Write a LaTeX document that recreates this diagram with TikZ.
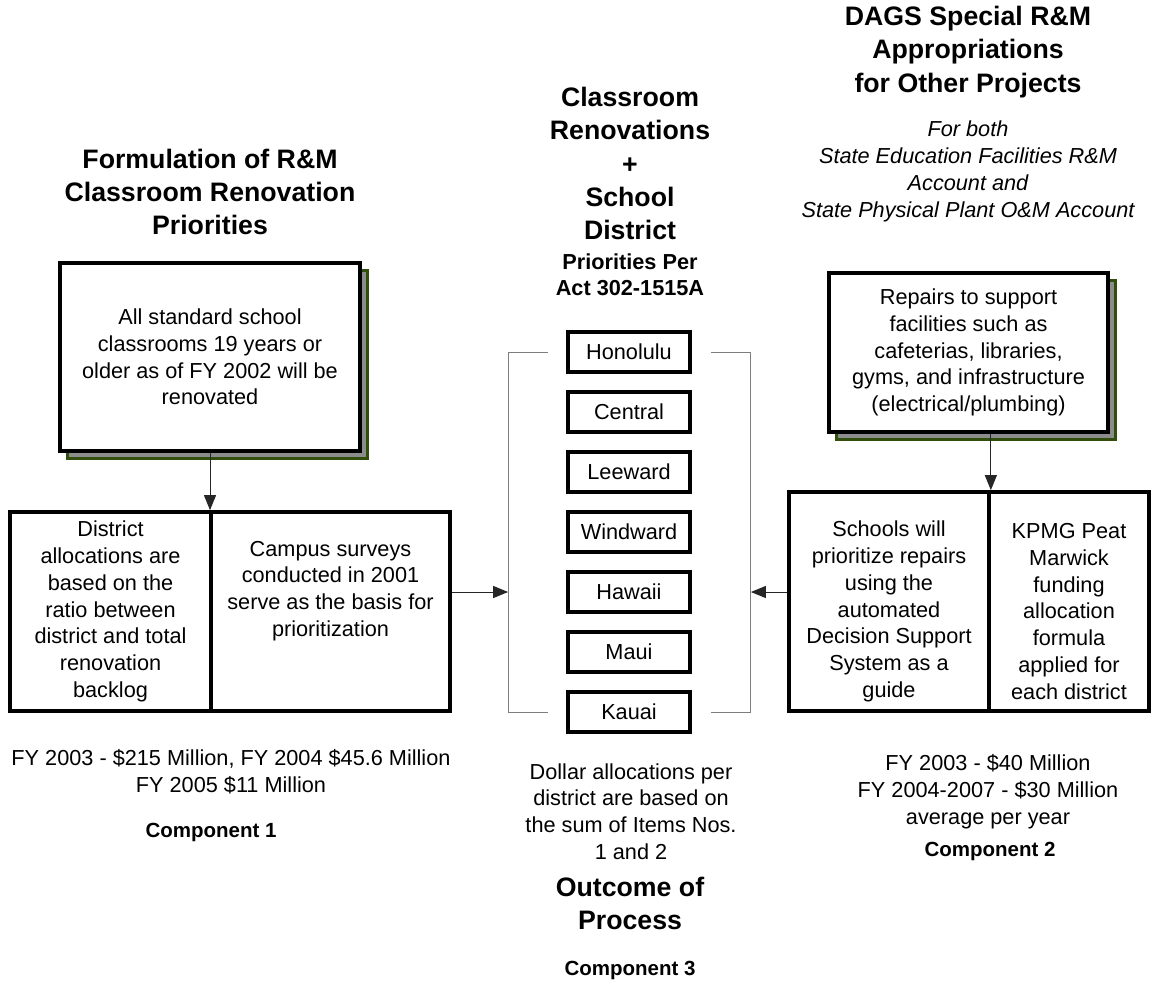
\documentclass[tikz,border=0pt]{standalone}
\usepackage{fontspec}
\setmainfont{Liberation Sans}
\usetikzlibrary{arrows.meta,calc,positioning,shadows}
\definecolor{ShadeGray}{RGB}{140,140,140}
\definecolor{ShadeGreen}{RGB}{50,78,12}
\definecolor{BracketGray}{RGB}{125,125,125}
\newcommand{\district}[3]{%
  \node[distbox] (#1) at (629,#2) {#3};}

\begin{document}
\begin{tikzpicture}[x=1pt,y=-1pt,
  body/.style={align=center,inner sep=0pt,font=\fontsize{21.7}{26.8}\selectfont},
  head/.style={align=center,inner sep=0pt,font=\fontsize{26.7}{33.4}\selectfont\bfseries},
  sub/.style={body,font=\fontsize{21.7}{26.2}\selectfont\bfseries},
  comp/.style={body,font=\fontsize{20.5}{25}\selectfont\bfseries},
  cell/.style={body,draw,line width=3.7pt},
  castbox/.style={cell,fill=white,drop shadow={shadow xshift=7.5pt,shadow yshift=-7.5pt,
    fill=ShadeGray,draw=ShadeGreen,line width=2.2pt,opacity=1}},
  distbox/.style={cell,minimum width=122pt,minimum height=40pt},
  flow/.style={-{Triangle[length=15pt,width=12pt]},line width=1pt,draw=black!85},
  bracket/.style={line width=1pt,draw=BracketGray}]
  \useasboundingbox (0,0) rectangle (1155,983);
  \node[head] (lefttitle) at (210,192) {Formulation of R\&M\\Classroom Renovation\\Priorities};
  \node[head] (midtitle) at (630,163.5) {Classroom\\Renovations\\+\\School\\District};
  \node[sub] (midsub) at (630,275) {Priorities Per\\Act 302-1515A};
  \node[head] (righttitle) at (968,52) {DAGS Special R\&M\\Appropriations\\for Other Projects};
  \node[body,font=\fontsize{21.7}{27}\selectfont\itshape] (rightnote) at (968,171)
    {For both\\State Education Facilities R\&M\\Account and\\State Physical Plant O\&M Account};

  \node[castbox,minimum width=300pt,minimum height=188pt] (goal) at (210,357)
    {All standard school\\classrooms 19 years or\\older as of FY 2002 will be\\renovated};
  \node[cell,minimum width=201pt,minimum height=199pt] (alloc) at (110.5,611.5)
    {District\\allocations are\\based on the\\ratio between\\district and total\\renovation\\backlog};
  \node[cell,minimum width=239pt,minimum height=199pt] (survey) at (330.5,611.5) {};
  \node[body] (surveytxt) at (330.5,591)
    {Campus surveys\\conducted in 2001\\serve as the basis for\\prioritization};

  \node[castbox,minimum width=279pt,minimum height=159pt] (repairs) at (968.5,352.5)
    {Repairs to support\\facilities such as\\cafeterias, libraries,\\gyms, and infrastructure\\(electrical/plumbing)};
  \node[cell,minimum width=200pt,minimum height=219pt] (dss) at (889,601.5) {};
  \node[body] (dsstxt) at (889,611.5)
    {Schools will\\prioritize repairs\\using the\\automated\\Decision Support\\System as a\\guide};
  \node[cell,minimum width=160pt,minimum height=219pt] (kpmg) at (1069,601.5) {};
  \node[body] (kpmgtxt) at (1069,611.5)
    {KPMG Peat\\Marwick\\funding\\allocation\\formula\\applied for\\each district};

  \district{hono}{352}{Honolulu}
  \district{central}{412}{Central}
  \district{leeward}{472}{Leeward}
  \district{windward}{532}{Windward}
  \district{hawaii}{592}{Hawaii}
  \district{maui}{652}{Maui}
  \district{kauai}{712}{Kauai}

  \draw[bracket] ([xshift=-18pt]hono.west) -| ([xshift=-58pt]kauai.west) -- ([xshift=-18pt]kauai.west);
  \draw[bracket] ([xshift=19pt]hono.east) -| ([xshift=59pt]kauai.east) -- ([xshift=19pt]kauai.east);
  \draw[flow] (goal.south) -- (goal.south |- alloc.north);
  \draw[flow] (dss.north east |- repairs.south) -- (dss.north east);
  \draw[flow] (survey.east |- hawaii) -- ([xshift=-58pt]hawaii.west);
  \draw[flow] (dss.west |- hawaii) -- ([xshift=59pt]hawaii.east);

  \node[body] (leftfund) at (231,771.5) {FY 2003 - \$215 Million, FY 2004 \$45.6 Million\\FY 2005 \$11 Million};
  \node[comp] (comp1) at (211,832) {Component 1};
  \node[body] (midnote) at (631,811.5) {Dollar allocations per\\district are based on\\the sum of Items Nos.\\1 and 2};
  \node[head] (outcome) at (630,903.5) {Outcome of\\Process};
  \node[comp] (comp3) at (630,970) {Component 3};
  \node[body] (rightfund) at (988,792) {FY 2003 - \$40 Million\\FY 2004-2007 - \$30 Million\\average per year};
  \node[comp] (comp2) at (990,851) {Component 2};
\end{tikzpicture}
\end{document}
